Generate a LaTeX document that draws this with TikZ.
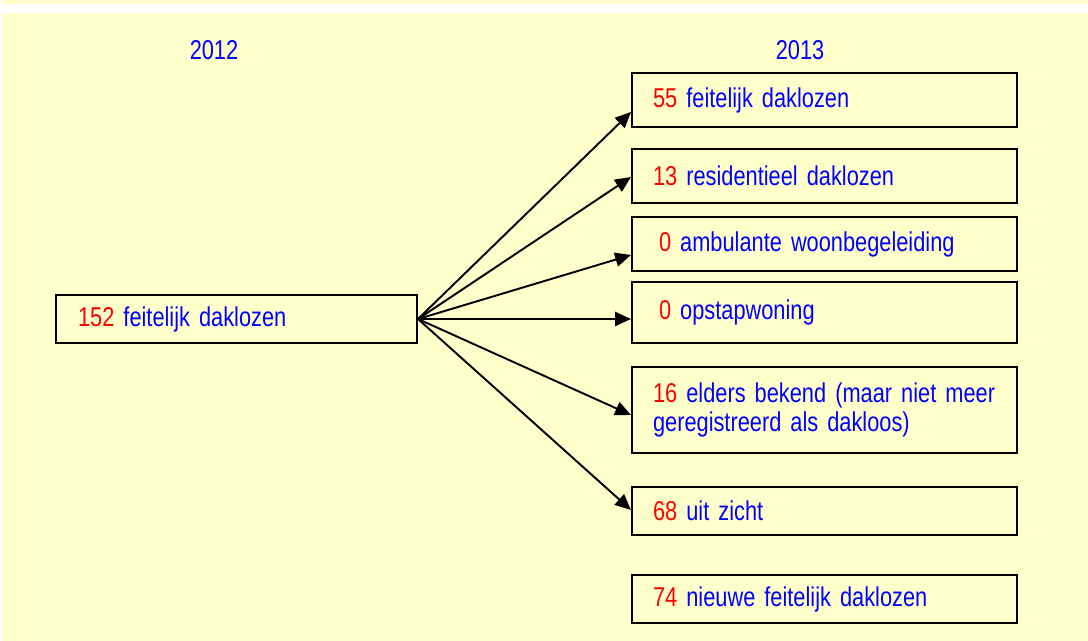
\documentclass[tikz,border=0pt]{standalone}
\usepackage{fontspec}
\setmainfont[FakeStretch=0.8]{Liberation Sans}
\usepackage{xcolor}
\usepackage{tikz}
\usetikzlibrary{shapes,arrows.meta,positioning}

\definecolor{achtergrond}{HTML}{FFFFCC}
\newcommand{\aantal}[1]{\textcolor{red}{#1}}
\newcommand{\tekstfont}{\fontsize{15.5pt}{17pt}\selectfont\spaceskip=0.2em plus 0.1em\relax}

\begin{document}
\begin{tikzpicture}[x=0.02cm, y=-0.02cm,
    every node/.style={text=blue, font=\tekstfont},
    vak/.style={draw, line width=1.2pt, fill=achtergrond, align=left,
        text width=6.86cm, inner xsep=0.42cm, inner ysep=0pt},
    pijl/.style={line width=1.1pt, -{Triangle[length=9pt, width=8pt]}}]
    \useasboundingbox (0,0) rectangle (1088,641);
    % achtergrond
    \fill[achtergrond] (2,0) rectangle (1088,4);
    \fill[achtergrond] (2,13) rectangle (1088,641);

    % jaren
    \node (j12) at (214,50) {2012};
    \node (j13) at (800,50) {2013};

    % 2012
    \node[vak, text width=6.34cm, inner xsep=0.44cm, minimum height=0.96cm] (bron) at (236.5,319)
        {\aantal{152} feitelijk daklozen};

    % 2013
    \node[vak, minimum height=1.08cm] (f1) at (824.5,100) {\aantal{55} feitelijk daklozen};
    \node[vak, minimum height=1.08cm] (f2) at (824.5,176) {\aantal{13} residentieel daklozen};
    \node[vak, minimum height=1.08cm] (f3) at (824.5,244) {\hspace*{0.12cm}\aantal{0} ambulante woonbegeleiding};
    \node[vak, minimum height=1.22cm] (f4) at (824.5,312.5) {\hspace*{0.12cm}\aantal{0} opstapwoning};
    \node[vak, minimum height=1.72cm] (f5) at (824.5,410) {\aantal{16} elders bekend (maar niet meer\\geregistreerd als dakloos)};
    \node[vak, minimum height=0.96cm] (f6) at (824.5,511) {\aantal{68} uit zicht};
    \node[vak, minimum height=0.96cm] (f7) at (824.5,599) {\aantal{74} nieuwe feitelijk daklozen};

    % pijlen
    \foreach \doel/\dy in {f1/-0.24, f2/-0.02, f3/-0.22, f4/-0.13, f5/-0.1, f6/0.02} {
        \draw[pijl] (bron.east) -- ([yshift=\dy cm]\doel.west);
    }
\end{tikzpicture}
\end{document}
